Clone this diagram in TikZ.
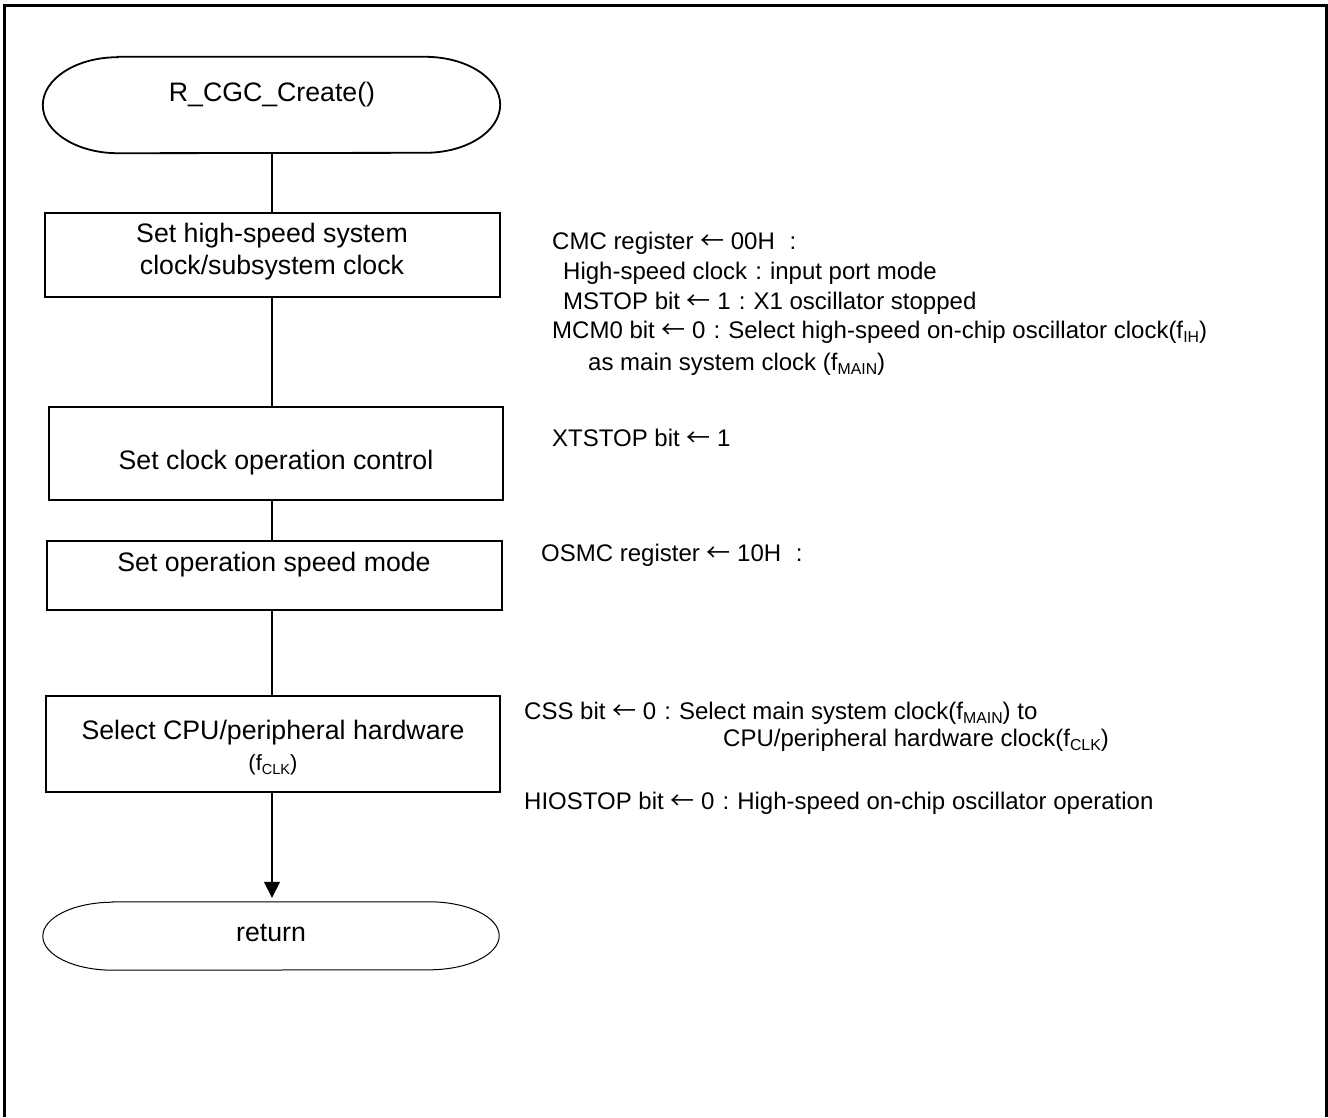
\documentclass[tikz,border=0pt]{standalone}
\usepackage{fontspec}
\setmainfont{Liberation Sans}
\newfontfamily\cjkfont{Noto Sans CJK JP}
\usetikzlibrary{arrows.meta}
\newcommand\larr{{\cjkfont ←}}
\newcommand\fcol{\makebox[0.95em][c]{:}}
\newcommand\lsub[1]{\raisebox{-0.2em}{\scalebox{0.66}{#1}}}
\begin{document}
\begin{tikzpicture}[x=1pt,y=-1pt,
  box/.style={draw, line width=1.6pt, inner sep=0pt},
  term/.style={inner sep=0pt},
  boxtxt/.style={font=\fontsize{26.7}{32}\selectfont, inner sep=0pt, anchor=base},
  note/.style={font=\fontsize{24}{28}\selectfont, inner sep=0pt, anchor=base west},
  conn/.style={line width=1.6pt}]
\useasboundingbox (0,0) rectangle (1328,1117);
% frame (top, left, right)
\draw[line width=3pt] (4,1117) -- (4,5) -- (1326,5) -- (1326,1117);

% start terminator
\node[term, minimum width=457pt, minimum height=96pt] (start) at (271.5,105) {};
\draw[line width=1.8pt] ([xshift=75pt]start.north west) -- ([xshift=-75pt]start.north east)
  arc[start angle=90, end angle=-90, x radius=75pt, y radius=48pt]
  -- ([xshift=75pt]start.south west)
  arc[start angle=270, end angle=90, x radius=75pt, y radius=48pt] -- cycle;
\node[boxtxt] (t0) at (272,101.5) {R\_CGC\_Create()};

% process boxes
\node[box, minimum width=455pt, minimum height=84pt] (b1) at (272.5,255) {};
\node[boxtxt] (t1a) at (272,242.5) {Set high-speed system};
\node[boxtxt] (t1b) at (272,274.5) {clock/subsystem clock};

\node[box, minimum width=454pt, minimum height=93pt] (b2) at (276,453.5) {};
\node[boxtxt] (t2) at (276,469.5) {Set clock operation control};

\node[box, minimum width=455pt, minimum height=69pt] (b3) at (274.5,575.5) {};
\node[boxtxt] (t3) at (274,571.5) {Set operation speed mode};

\node[box, minimum width=454pt, minimum height=96pt] (b4) at (273,744) {};
\node[boxtxt] (t4a) at (273,739.5) {Select CPU/peripheral hardware};
\node[boxtxt, font=\fontsize{22}{26}\selectfont] (t4b) at (273,770) {(f\lsub{CLK})};

% return terminator
\node[term, minimum width=456pt, minimum height=68pt] (ret) at (271,936) {};
\draw[line width=1pt] ([xshift=70pt]ret.north west) -- ([xshift=-70pt]ret.north east)
  arc[start angle=90, end angle=-90, x radius=70pt, y radius=34pt]
  -- ([xshift=70pt]ret.south west)
  arc[start angle=270, end angle=90, x radius=70pt, y radius=34pt] -- cycle;
\node[boxtxt] (tr) at (271,941.5) {return};

% connectors
\coordinate (axis) at (272,0);
\draw[conn] (start.south -| axis) -- (b1.north -| axis);
\draw[conn] (b1.south -| axis) -- (b2.north -| axis);
\draw[conn] (b2.south -| axis) -- (b3.north -| axis);
\draw[conn] (b3.south -| axis) -- (b4.north -| axis);
\draw[conn, -{Triangle[width=16pt,length=16pt]}] (b4.south -| axis) -- ([yshift=4pt]ret.north -| axis);

% annotations
\node[note] (n1) at (552,249) {CMC register \larr\ 00H \fcol};
\node[note] (n2) at (563,279) {High-speed clock\fcol input port mode};
\node[note] (n3) at (563,309) {MSTOP bit \larr\ 1\fcol X1 oscillator stopped};
\node[note] (n4) at (552,338) {MCM0 bit \larr\ 0\fcol Select high-speed on-chip oscillator clock(f\lsub{IH})};
\node[note] (n5) at (588,370) {as main system clock (f\lsub{MAIN})};
\node[note] (n6) at (552,446) {XTSTOP bit \larr\ 1};
\node[note] (n7) at (541,561) {OSMC register \larr\ 10H \fcol};
\node[note] (n8) at (524,719) {CSS bit \larr\ 0\fcol Select main system clock(f\lsub{MAIN}) to};
\node[note] (n9) at (723,746) {CPU/peripheral hardware clock(f\lsub{CLK})};
\node[note] (n10) at (524,809) {HIOSTOP bit \larr\ 0\fcol High-speed on-chip oscillator operation};
\end{tikzpicture}
\end{document}
